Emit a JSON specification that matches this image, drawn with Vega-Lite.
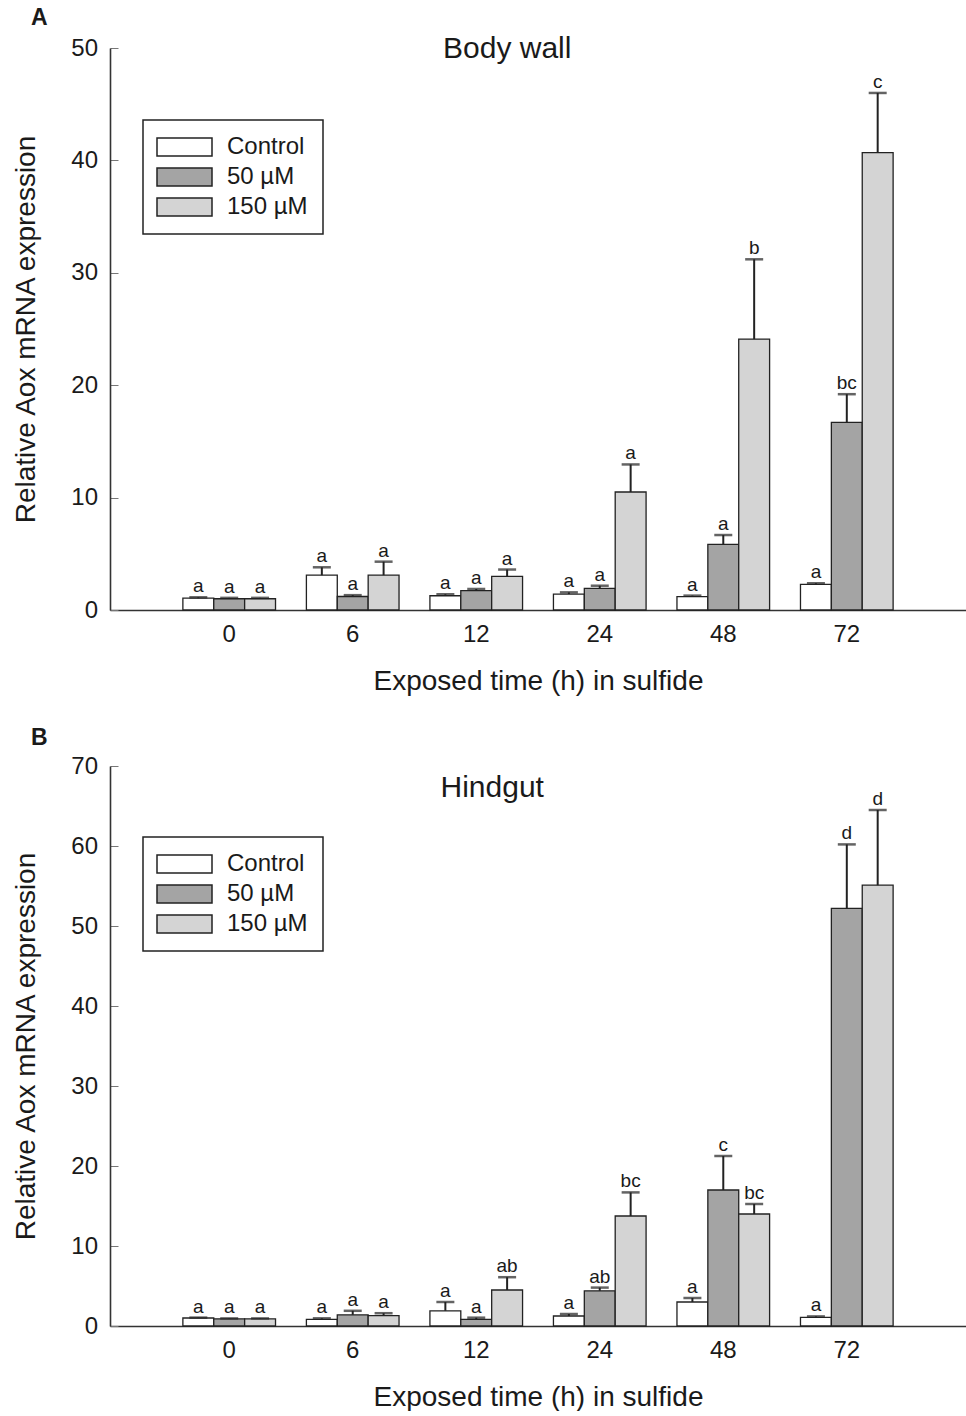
{
  "$schema": "https://vega.github.io/schema/vega-lite/v6.json",
  "background": "white",
  "padding": {"left": 12, "top": 7, "right": 0, "bottom": 0},
  "spacing": 32,
  "datasets": {
    "bodywall": [
      {"time": "0", "group": "Control", "value": 1.05, "upper": 1.13, "letter": "a"},
      {"time": "0", "group": "50 µM", "value": 1.0, "upper": 1.08, "letter": "a"},
      {"time": "0", "group": "150 µM", "value": 1.0, "upper": 1.08, "letter": "a"},
      {"time": "6", "group": "Control", "value": 3.1, "upper": 3.8, "letter": "a"},
      {"time": "6", "group": "50 µM", "value": 1.2, "upper": 1.32, "letter": "a"},
      {"time": "6", "group": "150 µM", "value": 3.1, "upper": 4.3, "letter": "a"},
      {"time": "12", "group": "Control", "value": 1.27, "upper": 1.4, "letter": "a"},
      {"time": "12", "group": "50 µM", "value": 1.72, "upper": 1.87, "letter": "a"},
      {"time": "12", "group": "150 µM", "value": 3.0, "upper": 3.6, "letter": "a"},
      {"time": "24", "group": "Control", "value": 1.42, "upper": 1.57, "letter": "a"},
      {"time": "24", "group": "50 µM", "value": 1.93, "upper": 2.16, "letter": "a"},
      {"time": "24", "group": "150 µM", "value": 10.5, "upper": 12.95, "letter": "a"},
      {"time": "48", "group": "Control", "value": 1.19, "upper": 1.28, "letter": "a"},
      {"time": "48", "group": "50 µM", "value": 5.84, "upper": 6.67, "letter": "a"},
      {"time": "48", "group": "150 µM", "value": 24.1, "upper": 31.2, "letter": "b"},
      {"time": "72", "group": "Control", "value": 2.28, "upper": 2.38, "letter": "a"},
      {"time": "72", "group": "50 µM", "value": 16.7, "upper": 19.2, "letter": "bc"},
      {"time": "72", "group": "150 µM", "value": 40.7, "upper": 46.0, "letter": "c"}
    ],
    "hindgut": [
      {"time": "0", "group": "Control", "value": 1.0, "upper": 1.05, "letter": "a"},
      {"time": "0", "group": "50 µM", "value": 0.9, "upper": 0.95, "letter": "a"},
      {"time": "0", "group": "150 µM", "value": 0.9, "upper": 0.95, "letter": "a"},
      {"time": "6", "group": "Control", "value": 0.83, "upper": 0.96, "letter": "a"},
      {"time": "6", "group": "50 µM", "value": 1.4, "upper": 1.9, "letter": "a"},
      {"time": "6", "group": "150 µM", "value": 1.3, "upper": 1.6, "letter": "a"},
      {"time": "12", "group": "Control", "value": 1.9, "upper": 3.0, "letter": "a"},
      {"time": "12", "group": "50 µM", "value": 0.83, "upper": 1.04, "letter": "a"},
      {"time": "12", "group": "150 µM", "value": 4.5, "upper": 6.1, "letter": "ab"},
      {"time": "24", "group": "Control", "value": 1.25, "upper": 1.5, "letter": "a"},
      {"time": "24", "group": "50 µM", "value": 4.4, "upper": 4.8, "letter": "ab"},
      {"time": "24", "group": "150 µM", "value": 13.75, "upper": 16.7, "letter": "bc"},
      {"time": "48", "group": "Control", "value": 3.0, "upper": 3.5, "letter": "a"},
      {"time": "48", "group": "50 µM", "value": 17.0, "upper": 21.25, "letter": "c"},
      {"time": "48", "group": "150 µM", "value": 14.0, "upper": 15.25, "letter": "bc"},
      {"time": "72", "group": "Control", "value": 1.08, "upper": 1.2, "letter": "a"},
      {"time": "72", "group": "50 µM", "value": 52.2, "upper": 60.2, "letter": "d"},
      {"time": "72", "group": "150 µM", "value": 55.1, "upper": 64.5, "letter": "d"}
    ],
    "labelA": [{"name": "Body wall"}],
    "labelB": [{"name": "Hindgut"}]
  },
  "resolve": {
    "scale": {"fill": "independent", "x": "independent", "y": "independent", "xOffset": "independent"},
    "legend": {"fill": "independent"}
  },
  "vconcat": [
    {
      "width": 856,
      "height": 562,
      "title": {"text": "A", "anchor": "start", "frame": "group", "dx": -79, "offset": -14, "baseline": "alphabetic", "fontSize": 23, "fontWeight": "bold", "font": "Liberation Sans", "color": "#1a1a1a"},
      "layer": [
        {
          "data": {"name": "bodywall"},
          "mark": {"type": "bar", "stroke": "#222", "strokeWidth": 1.3},
          "encoding": {
            "x": {"field": "time", "type": "ordinal", "sort": ["0", "6", "12", "24", "48", "72"], "scale": {"paddingInner": 0.25, "paddingOuter": 0.59}, "title": "Exposed time (h) in sulfide"},
            "xOffset": {"field": "group", "type": "nominal", "sort": ["Control", "50 µM", "150 µM"], "scale": {"paddingInner": 0, "paddingOuter": 0}},
            "y": {"field": "value", "type": "quantitative", "scale": {"domain": [0, 50], "nice": false}, "axis": {"values": [0, 10, 20, 30, 40, 50]}, "title": "Relative Aox mRNA expression"},
            "fill": {"field": "group", "type": "nominal", "sort": ["Control", "50 µM", "150 µM"], "scale": {"domain": ["Control", "50 µM", "150 µM"], "range": ["#ffffff", "#a4a4a4", "#d4d4d4"]},
              "legend": {"orient": "none", "legendX": 33, "legendY": 72, "title": null}}
          }
        },
        {
          "data": {"name": "bodywall"},
          "mark": {"type": "rule", "color": "#222", "strokeWidth": 2},
          "encoding": {
            "x": {"field": "time", "type": "ordinal", "sort": ["0", "6", "12", "24", "48", "72"]},
            "xOffset": {"field": "group", "type": "nominal", "sort": ["Control", "50 µM", "150 µM"]},
            "y": {"field": "upper", "type": "quantitative"},
            "y2": {"field": "value"}
          }
        },
        {
          "data": {"name": "bodywall"},
          "mark": {"type": "tick", "color": "#222", "thickness": 2.5, "size": 18},
          "encoding": {
            "x": {"field": "time", "type": "ordinal", "sort": ["0", "6", "12", "24", "48", "72"]},
            "xOffset": {"field": "group", "type": "nominal", "sort": ["Control", "50 µM", "150 µM"]},
            "y": {"field": "upper", "type": "quantitative"}
          }
        },
        {
          "data": {"name": "bodywall"},
          "mark": {"type": "text", "baseline": "alphabetic", "dy": -5, "fontSize": 19, "font": "Liberation Sans", "color": "#1a1a1a"},
          "encoding": {
            "x": {"field": "time", "type": "ordinal", "sort": ["0", "6", "12", "24", "48", "72"]},
            "xOffset": {"field": "group", "type": "nominal", "sort": ["Control", "50 µM", "150 µM"]},
            "y": {"field": "upper", "type": "quantitative"},
            "text": {"field": "letter"}
          }
        },
        {
          "data": {"name": "labelA"},
          "mark": {"type": "text", "baseline": "alphabetic", "align": "center", "dx": 31, "dy": 10, "fontSize": 30, "font": "Liberation Sans", "color": "#1a1a1a"},
          "encoding": {
            "x": {"datum": "12"},
            "y": {"datum": 50},
            "text": {"field": "name"}
          }
        }
      ]
    },
    {
      "width": 856,
      "height": 560,
      "title": {"text": "B", "anchor": "start", "frame": "group", "dx": -79, "offset": -14, "baseline": "alphabetic", "fontSize": 23, "fontWeight": "bold", "font": "Liberation Sans", "color": "#1a1a1a"},
      "layer": [
        {
          "data": {"name": "hindgut"},
          "mark": {"type": "bar", "stroke": "#222", "strokeWidth": 1.3},
          "encoding": {
            "x": {"field": "time", "type": "ordinal", "sort": ["0", "6", "12", "24", "48", "72"], "scale": {"paddingInner": 0.25, "paddingOuter": 0.59}, "title": "Exposed time (h) in sulfide"},
            "xOffset": {"field": "group", "type": "nominal", "sort": ["Control", "50 µM", "150 µM"], "scale": {"paddingInner": 0, "paddingOuter": 0}},
            "y": {"field": "value", "type": "quantitative", "scale": {"domain": [0, 70], "nice": false}, "axis": {"values": [0, 10, 20, 30, 40, 50, 60, 70]}, "title": "Relative Aox mRNA expression"},
            "fill": {"field": "group", "type": "nominal", "sort": ["Control", "50 µM", "150 µM"], "scale": {"domain": ["Control", "50 µM", "150 µM"], "range": ["#ffffff", "#a4a4a4", "#d4d4d4"]},
              "legend": {"orient": "none", "legendX": 33, "legendY": 71, "title": null}}
          }
        },
        {
          "data": {"name": "hindgut"},
          "mark": {"type": "rule", "color": "#222", "strokeWidth": 2},
          "encoding": {
            "x": {"field": "time", "type": "ordinal", "sort": ["0", "6", "12", "24", "48", "72"]},
            "xOffset": {"field": "group", "type": "nominal", "sort": ["Control", "50 µM", "150 µM"]},
            "y": {"field": "upper", "type": "quantitative"},
            "y2": {"field": "value"}
          }
        },
        {
          "data": {"name": "hindgut"},
          "mark": {"type": "tick", "color": "#222", "thickness": 2.5, "size": 18},
          "encoding": {
            "x": {"field": "time", "type": "ordinal", "sort": ["0", "6", "12", "24", "48", "72"]},
            "xOffset": {"field": "group", "type": "nominal", "sort": ["Control", "50 µM", "150 µM"]},
            "y": {"field": "upper", "type": "quantitative"}
          }
        },
        {
          "data": {"name": "hindgut"},
          "mark": {"type": "text", "baseline": "alphabetic", "dy": -5, "fontSize": 19, "font": "Liberation Sans", "color": "#1a1a1a"},
          "encoding": {
            "x": {"field": "time", "type": "ordinal", "sort": ["0", "6", "12", "24", "48", "72"]},
            "xOffset": {"field": "group", "type": "nominal", "sort": ["Control", "50 µM", "150 µM"]},
            "y": {"field": "upper", "type": "quantitative"},
            "text": {"field": "letter"}
          }
        },
        {
          "data": {"name": "labelB"},
          "mark": {"type": "text", "baseline": "alphabetic", "align": "center", "dx": 16, "dy": 31, "fontSize": 30, "font": "Liberation Sans", "color": "#1a1a1a"},
          "encoding": {
            "x": {"datum": "12"},
            "y": {"datum": 70},
            "text": {"field": "name"}
          }
        }
      ]
    }
  ],
  "config": {
    "view": {"stroke": null},
    "font": "Liberation Sans",
    "axis": {"grid": false, "labelFont": "Liberation Sans", "titleFont": "Liberation Sans", "labelColor": "#1a1a1a", "titleColor": "#1a1a1a", "titleFontWeight": "normal", "domainColor": "#333", "domainWidth": 1.6},
    "axisY": {"tickSize": -8, "tickColor": "#777", "tickWidth": 1, "labelPadding": 20.5, "labelFontSize": 24, "titleFontSize": 28, "titlePadding": 30},
    "axisX": {"ticks": false, "labelPadding": 12, "labelAngle": 0, "labelFontSize": 24, "titleFontSize": 28, "titlePadding": 21},
    "legend": {
      "symbolType": "M-1.3,-0.9H4.2V0.9H-1.3Z",
      "symbolSize": 400,
      "symbolStrokeColor": "#222",
      "symbolStrokeWidth": 1.5,
      "symbolOpacity": 1,
      "labelFontSize": 24,
      "labelFont": "Liberation Sans",
      "labelColor": "#1a1a1a",
      "labelOffset": 45,
      "rowPadding": 6,
      "padding": 15,
      "strokeColor": "#222",
      "strokeWidth": 1.5,
      "fillColor": "white"
    }
  }
}
